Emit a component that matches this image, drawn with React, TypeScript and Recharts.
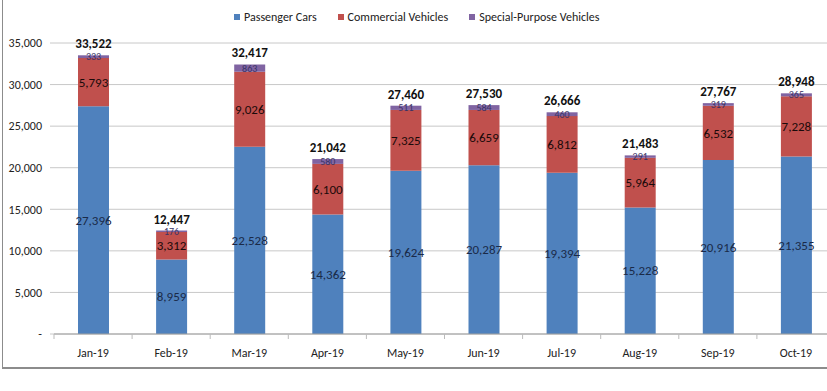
import React from 'react';
import { BarChart, Bar, XAxis, YAxis, CartesianGrid, Legend, LabelList } from 'recharts';

const months = ['Jan-19', 'Feb-19', 'Mar-19', 'Apr-19', 'May-19', 'Jun-19', 'Jul-19', 'Aug-19', 'Sep-19', 'Oct-19'];
const passengerCars = [27396, 8959, 22528, 14362, 19624, 20287, 19394, 15228, 20916, 21355];
const commercialVehicles = [5793, 3312, 9026, 6100, 7325, 6659, 6812, 5964, 6532, 7228];
const specialPurpose = [333, 176, 863, 580, 511, 584, 460, 291, 319, 365];
const totals = [33522, 12447, 32417, 21042, 27460, 27530, 26666, 21483, 27767, 28948];
const yTicks = [0, 5000, 10000, 15000, 20000, 25000, 30000, 35000];

const data = months.map((m, i) => ({
  month: m,
  passenger: passengerCars[i],
  commercial: commercialVehicles[i],
  special: specialPurpose[i],
  total: totals[i],
}));

const FONT = 'Carlito, Lato, sans-serif';
const fmt = (v: number) => (v === 0 ? '-' : v.toLocaleString('en-US'));

const legendItems = [
  { name: 'Passenger Cars', color: '#4F81BD' },
  { name: 'Commercial Vehicles', color: '#C0504D' },
  { name: 'Special-Purpose Vehicles', color: '#8064A2' },
];

const LegendContent = () => (
  <div style={{ display: 'flex', alignItems: 'center', fontFamily: FONT, fontSize: 12, color: '#222' }}>
    {legendItems.map((it, i) => (
      <div key={it.name} style={{ display: 'flex', alignItems: 'center', marginRight: i < 2 ? 21 : 0 }}>
        <span style={{ display: 'inline-block', width: 6, height: 6, background: it.color, marginRight: 4 }} />
        <span>{it.name}</span>
      </div>
    ))}
  </div>
);

const XTick = (props: any) => {
  const { x, y, payload } = props;
  const off = payload?.offset ?? 39;
  return (
    <g>
      <line x1={x - off} x2={x - off} y1={y} y2={y + 5} stroke="#BBBBBB" strokeWidth={1} />
      <text x={x} y={y + 19} dy="0.35em" textAnchor="middle" fontFamily={FONT} fontSize={12} fill="#222">
        {payload.value}
      </text>
    </g>
  );
};

export default function App() {
  return (
    <div style={{ position: 'absolute', left: 0, top: 0, width: 827, height: 391, overflow: 'hidden', background: '#fff' }}>
      <BarChart
        width={860}
        height={391}
        data={data}
        margin={{ top: 43, right: 25, bottom: 27, left: 0 }}
        barSize={31}
      >
        <CartesianGrid vertical={false} stroke="#C8C8C8" />
        <XAxis
          dataKey="month"
          axisLine={{ stroke: '#A0A0A0' }}
          tickLine={false}
          tickSize={0}
          tickMargin={0}
          height={30}
          tick={<XTick />}
          interval={0}
        />
        <YAxis
          width={54}
          domain={[0, 35000]}
          ticks={yTicks}
          tickFormatter={fmt}
          axisLine={false}
          tickLine={{ stroke: '#C8C8C8' }}
          tickSize={4}
          tickMargin={8}
          tick={{ fontFamily: FONT, fontSize: 12, fill: '#222' }}
          interval={0}
        />
        <Legend
          verticalAlign="middle"
          layout="horizontal"
          content={<LegendContent />}
          wrapperStyle={{ top: 10, left: 234, width: 420 }}
        />
        <Bar dataKey="passenger" name="Passenger Cars" stackId="a" fill="#4F81BD" isAnimationActive={false}>
          <LabelList dataKey="passenger" position="center" formatter={fmt} fill="#1A2A48" fontFamily={FONT} fontSize={13} />
        </Bar>
        <Bar dataKey="commercial" name="Commercial Vehicles" stackId="a" fill="#C0504D" isAnimationActive={false}>
          <LabelList dataKey="commercial" position="center" formatter={fmt} fill="#1A0A0A" fontFamily={FONT} fontSize={13} />
        </Bar>
        <Bar dataKey="special" name="Special-Purpose Vehicles" stackId="a" fill="#8064A2" isAnimationActive={false}>
          <LabelList dataKey="special" position="center" formatter={fmt} fill="#3A3366" fontFamily={FONT} fontSize={10} />
          <LabelList dataKey="total" position="top" offset={7} formatter={fmt} fill="#111" fontFamily={FONT} fontSize={13} fontWeight="bold" />
        </Bar>
      </BarChart>
      <div style={{ position: 'absolute', left: 2, top: 0, width: 1, height: 368, background: '#8C8C8C' }} />
      <div style={{ position: 'absolute', left: 2, top: 367, width: 830, height: 1.5, background: '#8C8C8C' }} />
    </div>
  );
}
